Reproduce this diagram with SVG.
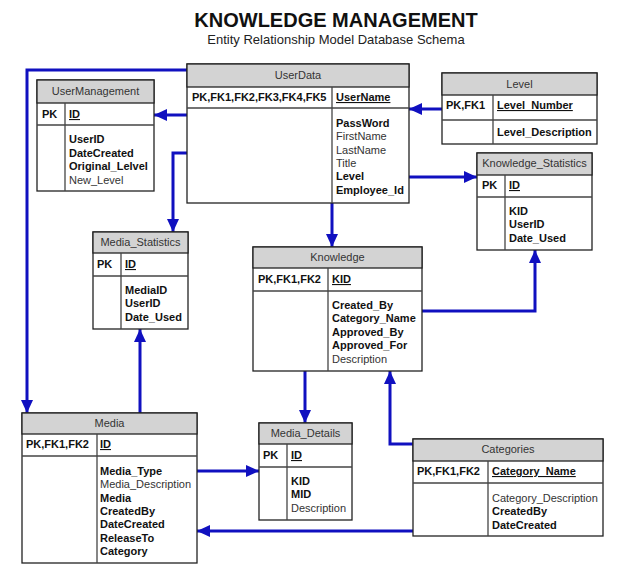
<svg xmlns="http://www.w3.org/2000/svg" width="625" height="575" viewBox="0 0 625 575">
<defs>
<style>
text{font-family:"Liberation Sans",Arial,sans-serif;font-size:11px;fill:#333}
.t{font-size:20px;font-weight:bold;fill:#111}
.st{font-size:13px;fill:#222}
.h{text-anchor:middle;fill:#333}
.b{font-weight:bold;fill:#111}
.u{text-decoration:underline}
.box{fill:#fff;stroke:#222;stroke-width:1.3}
.hd{fill:#d3d3d3;stroke:#222;stroke-width:1.3}
.ln{stroke:#444;stroke-width:1.3;fill:none}
.c{fill:none;stroke:#1010c0;stroke-width:3;marker-end:url(#ar)}
</style>
<marker id="ar" markerUnits="userSpaceOnUse" markerWidth="14" markerHeight="12" refX="13" refY="6" orient="auto">
<path d="M0,0 L13,6 L0,12 z" fill="#1010c0"/>
</marker>
</defs>
<rect width="625" height="575" fill="#fff"/>
<text class="t" x="336" y="27" text-anchor="middle">KNOWLEDGE MANAGEMENT</text>
<text class="st" x="336" y="44" text-anchor="middle">Entity Relationship Model Database Schema</text>

<g id="connectors">
<path class="c" d="M187,70 H27 V413"/>
<path class="c" d="M187,115 H154"/>
<path class="c" d="M187,153 H173 V232"/>
<path class="c" d="M442,109 H409"/>
<path class="c" d="M409,177 H477"/>
<path class="c" d="M332,203 V247"/>
<path class="c" d="M422,311 H535 V250"/>
<path class="c" d="M140,413 V329"/>
<path class="c" d="M305,371 V423"/>
<path class="c" d="M413,444 H390 V371"/>
<path class="c" d="M197,471 H259"/>
<path class="c" d="M413,531 H197"/>
</g>

<g id="UserManagement">
<rect class="box" x="37" y="80" width="117" height="111"/>
<rect class="hd" x="37" y="80" width="117" height="23"/>
<line class="ln" x1="37" y1="125" x2="154" y2="125"/>
<line class="ln" x1="65" y1="103" x2="65" y2="191"/>
<text class="h" x="95.5" y="95">UserManagement</text>
<text class="b" x="42" y="118">PK</text>
<text class="b u" x="69" y="118">ID</text>
<text class="b" x="69" y="143">UserID</text>
<text class="b" x="69" y="156.5">DateCreated</text>
<text class="b" x="69" y="170">Original_Lelvel</text>
<text x="69" y="183.5">New_Level</text>
</g>

<g id="UserData">
<rect class="box" x="187" y="64" width="222" height="139"/>
<rect class="hd" x="187" y="64" width="222" height="23"/>
<line class="ln" x1="187" y1="108" x2="409" y2="108"/>
<line class="ln" x1="332" y1="87" x2="332" y2="203"/>
<text class="h" x="298" y="79">UserData</text>
<text class="b" x="192" y="101">PK,FK1,FK2,FK3,FK4,FK5</text>
<text class="b u" x="336" y="101">UserName</text>
<text class="b" x="336" y="127">PassWord</text>
<text x="336" y="140.3">FirstName</text>
<text x="336" y="153.6">LastName</text>
<text x="336" y="166.9">Title</text>
<text class="b" x="336" y="180.2">Level</text>
<text class="b" x="336" y="193.5">Employee_Id</text>
</g>

<g id="Level">
<rect class="box" x="442" y="73" width="155" height="71"/>
<rect class="hd" x="442" y="73" width="155" height="22"/>
<line class="ln" x1="442" y1="120" x2="597" y2="120"/>
<line class="ln" x1="493" y1="95" x2="493" y2="144"/>
<text class="h" x="519.5" y="88">Level</text>
<text class="b" x="446" y="109">PK,FK1</text>
<text class="b u" x="497" y="109">Level_Number</text>
<text class="b" x="497" y="136">Level_Description</text>
</g>

<g id="Knowledge_Statistics">
<rect class="box" x="477" y="153" width="115" height="97"/>
<rect class="hd" x="477" y="153" width="115" height="22"/>
<line class="ln" x1="477" y1="197" x2="592" y2="197"/>
<line class="ln" x1="505" y1="175" x2="505" y2="250"/>
<text class="h" x="534.5" y="167">Knowledge_Statistics</text>
<text class="b" x="482" y="189">PK</text>
<text class="b u" x="509" y="189">ID</text>
<text class="b" x="509" y="215">KID</text>
<text class="b" x="509" y="228.3">UserID</text>
<text class="b" x="509" y="241.6">Date_Used</text>
</g>

<g id="Media_Statistics">
<rect class="box" x="93" y="232" width="95" height="97"/>
<rect class="hd" x="93" y="232" width="95" height="21"/>
<line class="ln" x1="93" y1="276" x2="188" y2="276"/>
<line class="ln" x1="121" y1="253" x2="121" y2="329"/>
<text class="h" x="140.5" y="246">Media_Statistics</text>
<text class="b" x="97" y="268">PK</text>
<text class="b u" x="125" y="268">ID</text>
<text class="b" x="125" y="294">MediaID</text>
<text class="b" x="125" y="307.3">UserID</text>
<text class="b" x="125" y="320.6">Date_Used</text>
</g>

<g id="Knowledge">
<rect class="box" x="253" y="247" width="169" height="124"/>
<rect class="hd" x="253" y="247" width="169" height="21"/>
<line class="ln" x1="253" y1="291" x2="422" y2="291"/>
<line class="ln" x1="328" y1="268" x2="328" y2="371"/>
<text class="h" x="337.5" y="261">Knowledge</text>
<text class="b" x="258" y="283">PK,FK1,FK2</text>
<text class="b u" x="332" y="283">KID</text>
<text class="b" x="332" y="309">Created_By</text>
<text class="b" x="332" y="322.4">Category_Name</text>
<text class="b" x="332" y="335.8">Approved_By</text>
<text class="b" x="332" y="349.2">Approved_For</text>
<text x="332" y="362.6">Description</text>
</g>

<g id="Media">
<rect class="box" x="22" y="413" width="175" height="150"/>
<rect class="hd" x="22" y="413" width="175" height="21"/>
<line class="ln" x1="22" y1="456" x2="197" y2="456"/>
<line class="ln" x1="97" y1="434" x2="97" y2="563"/>
<text class="h" x="109.5" y="427">Media</text>
<text class="b" x="26" y="448">PK,FK1,FK2</text>
<text class="b u" x="100" y="448">ID</text>
<text class="b" x="100" y="475">Media_Type</text>
<text x="100" y="488.3">Media_Description</text>
<text class="b" x="100" y="501.6">Media</text>
<text class="b" x="100" y="514.9">CreatedBy</text>
<text class="b" x="100" y="528.2">DateCreated</text>
<text class="b" x="100" y="541.5">ReleaseTo</text>
<text class="b" x="100" y="554.8">Category</text>
</g>

<g id="Media_Details">
<rect class="box" x="259" y="423" width="93" height="97"/>
<rect class="hd" x="259" y="423" width="93" height="21"/>
<line class="ln" x1="259" y1="467" x2="352" y2="467"/>
<line class="ln" x1="287" y1="444" x2="287" y2="520"/>
<text class="h" x="305.5" y="437">Media_Details</text>
<text class="b" x="263" y="459">PK</text>
<text class="b u" x="291" y="459">ID</text>
<text class="b" x="291" y="485">KID</text>
<text class="b" x="291" y="498.3">MID</text>
<text x="291" y="511.6">Description</text>
</g>

<g id="Categories">
<rect class="box" x="413" y="439" width="190" height="97"/>
<rect class="hd" x="413" y="439" width="190" height="22"/>
<line class="ln" x1="413" y1="483" x2="603" y2="483"/>
<line class="ln" x1="488" y1="461" x2="488" y2="536"/>
<text class="h" x="508" y="453">Categories</text>
<text class="b" x="417" y="475">PK,FK1,FK2</text>
<text class="b u" x="492" y="475">Category_Name</text>
<text x="492" y="502">Category_Description</text>
<text class="b" x="492" y="515.3">CreatedBy</text>
<text class="b" x="492" y="528.6">DateCreated</text>
</g>
</svg>
